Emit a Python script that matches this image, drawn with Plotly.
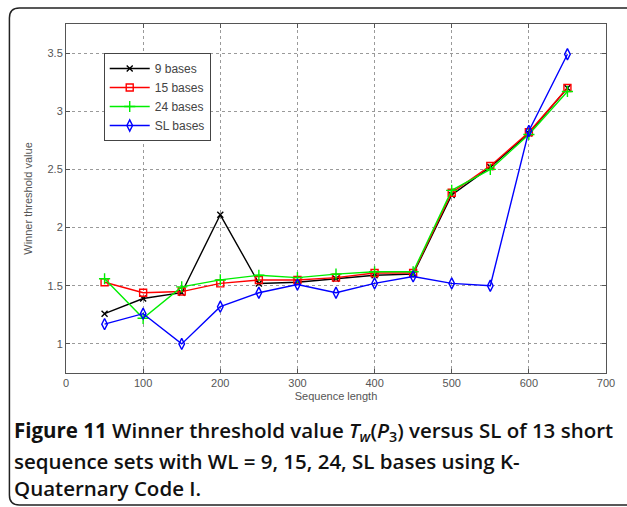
import plotly.graph_objects as go

seq_len = [50, 100, 150, 200, 250, 300, 350, 400, 450, 500, 550, 600, 650]
bases9 = [1.26, 1.39, 1.44, 2.11, 1.52, 1.53, 1.56, 1.59, 1.60, 2.28, 2.52, 2.81, 3.20]
bases15 = [1.53, 1.44, 1.45, 1.52, 1.55, 1.55, 1.57, 1.61, 1.61, 2.30, 2.53, 2.82, 3.20]
bases24 = [1.56, 1.22, 1.49, 1.55, 1.59, 1.57, 1.60, 1.62, 1.62, 2.32, 2.50, 2.80, 3.17]
sl_bases = [1.17, 1.26, 1.00, 1.32, 1.44, 1.51, 1.44, 1.52, 1.58, 1.52, 1.50, 2.83, 3.49]

x_ticks = [0, 100, 200, 300, 400, 500, 600, 700]
y_ticks = [1, 1.5, 2, 2.5, 3, 3.5]
y_tick_text = ["1", "1.5", "2", "2.5", "3", "3.5"]

W, H = 627, 507
L, R, T, B = 66, 610, 24, 373


def px(xp):
    return (xp - L) / (R - L)


def py(yp):
    return (B - yp) / (B - T)


series = [
    ("9 bases", bases9, "black", "x-thin-open", 6),
    ("15 bases", bases15, "red", "square-open", 7),
    ("24 bases", bases24, "#00ee00", "cross-thin-open", 8),
    ("SL bases", sl_bases, "blue", "diamond-tall-open", 8),
]

fig = go.Figure()
for name, ys, col, sym, sz in series:
    fig.add_trace(go.Scatter(
        x=seq_len, y=ys, name=name, mode="lines+markers",
        line=dict(color=col, width=1.4),
        marker=dict(symbol=sym, size=sz, color=col, line=dict(color=col, width=1.4)),
    ))

axis_common = dict(
    showline=True, linecolor="#555555", linewidth=1, mirror="allticks",
    ticks="inside", ticklen=4, tickcolor="#555555",
    showgrid=True, gridcolor="#9a9a9a", griddash="dot", gridwidth=1,
    zeroline=False,
    tickfont=dict(family="Liberation Sans, Arial", size=11, color="#555555"),
)

fig.update_xaxes(range=[0, 700], tickvals=x_ticks, **axis_common,
                 title=dict(text="Sequence length", standoff=4,
                            font=dict(family="Liberation Sans, Arial", size=11, color="#555555")))
fig.update_yaxes(range=[0.75, 3.75], tickvals=y_ticks, ticktext=y_tick_text, **axis_common,
                 title=dict(text="Winner threshold value", standoff=12,
                            font=dict(family="Liberation Sans, Arial", size=11, color="#555555")))

# rounded frame
x0, x1 = px(9), px(645)
y0, y1 = py(505), py(8)
rx, ry = 10 / (R - L), 10 / (B - T)
path = (f"M {x0+rx},{y1} L {x1},{y1} M {x0+rx},{y1} "
        f"Q {x0},{y1} {x0},{y1-ry} L {x0},{y0+ry} Q {x0},{y0} {x0+rx},{y0} L {x1},{y0}")
fig.add_shape(type="path", path=path, xref="paper", yref="paper",
              line=dict(color="#222222", width=1.5))

cap_font = dict(family="Open Sans, Noto Sans", size=20.5, color="#111111", weight=600)
lines = [
    "<b>Figure 11</b> Winner threshold value <i>T</i><sub><i>w</i></sub>(<i>P</i><sub>3</sub>) versus SL of 13 short",
    "sequence sets with WL = 9, 15, 24, SL bases using K-",
    "Quaternary Code I.",
]
ys_cap = [431, 461, 488]
for txt, yc in zip(lines, ys_cap):
    fig.add_annotation(text=txt, xref="paper", yref="paper", x=px(12), y=py(yc),
                       xanchor="left", yanchor="middle", showarrow=False,
                       font=cap_font, align="left")

fig.update_layout(
    width=W, height=H,
    margin=dict(l=L, r=W - R, t=T, b=H - B),
    plot_bgcolor="white", paper_bgcolor="white",
    showlegend=True,
    legend=dict(x=px(104), y=py(53), xanchor="left", yanchor="top",
                bgcolor="white", bordercolor="#444444", borderwidth=1,
                font=dict(family="Liberation Sans, Arial", size=12, color="#444444"),
                tracegroupgap=0, itemwidth=40),
)

fig.write_html("out.html")
